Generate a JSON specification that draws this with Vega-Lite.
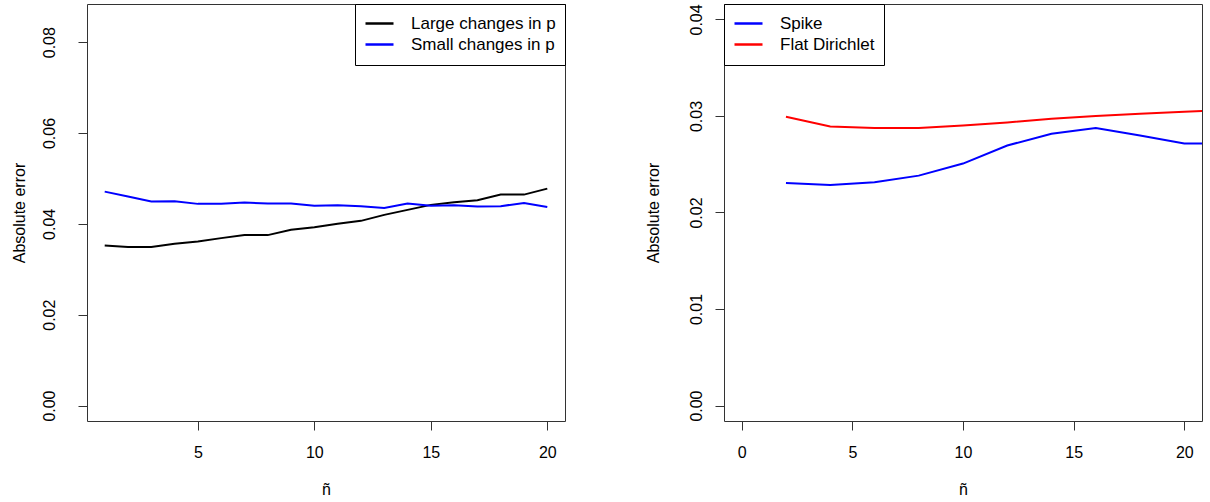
{
  "$schema": "https://vega.github.io/schema/vega-lite/v6.json",
  "padding": {"left": 10, "top": 3, "right": 0, "bottom": 0},
  "bounds": "flush",
  "spacing": 159,
  "background": "white",
  "datasets": {
    "left": [
      {"n": 1, "err": 0.03523, "series": "Large changes in p"},
      {"n": 2, "err": 0.03488, "series": "Large changes in p"},
      {"n": 3, "err": 0.03488, "series": "Large changes in p"},
      {"n": 4, "err": 0.0356, "series": "Large changes in p"},
      {"n": 5, "err": 0.03611, "series": "Large changes in p"},
      {"n": 6, "err": 0.03686, "series": "Large changes in p"},
      {"n": 7, "err": 0.03752, "series": "Large changes in p"},
      {"n": 8, "err": 0.03752, "series": "Large changes in p"},
      {"n": 9, "err": 0.03868, "series": "Large changes in p"},
      {"n": 10, "err": 0.03927, "series": "Large changes in p"},
      {"n": 11, "err": 0.04, "series": "Large changes in p"},
      {"n": 12, "err": 0.04066, "series": "Large changes in p"},
      {"n": 13, "err": 0.04198, "series": "Large changes in p"},
      {"n": 14, "err": 0.04308, "series": "Large changes in p"},
      {"n": 15, "err": 0.04418, "series": "Large changes in p"},
      {"n": 16, "err": 0.04477, "series": "Large changes in p"},
      {"n": 17, "err": 0.04521, "series": "Large changes in p"},
      {"n": 18, "err": 0.04644, "series": "Large changes in p"},
      {"n": 19, "err": 0.04644, "series": "Large changes in p"},
      {"n": 20, "err": 0.04776, "series": "Large changes in p"},
      {"n": 1, "err": 0.0471, "series": "Small changes in p"},
      {"n": 2, "err": 0.046, "series": "Small changes in p"},
      {"n": 3, "err": 0.0449, "series": "Small changes in p"},
      {"n": 4, "err": 0.045, "series": "Small changes in p"},
      {"n": 5, "err": 0.0444, "series": "Small changes in p"},
      {"n": 6, "err": 0.0444, "series": "Small changes in p"},
      {"n": 7, "err": 0.0447, "series": "Small changes in p"},
      {"n": 8, "err": 0.0445, "series": "Small changes in p"},
      {"n": 9, "err": 0.0445, "series": "Small changes in p"},
      {"n": 10, "err": 0.044, "series": "Small changes in p"},
      {"n": 11, "err": 0.0441, "series": "Small changes in p"},
      {"n": 12, "err": 0.0439, "series": "Small changes in p"},
      {"n": 13, "err": 0.0435, "series": "Small changes in p"},
      {"n": 14, "err": 0.0445, "series": "Small changes in p"},
      {"n": 15, "err": 0.044, "series": "Small changes in p"},
      {"n": 16, "err": 0.0441, "series": "Small changes in p"},
      {"n": 17, "err": 0.0438, "series": "Small changes in p"},
      {"n": 18, "err": 0.0439, "series": "Small changes in p"},
      {"n": 19, "err": 0.0446, "series": "Small changes in p"},
      {"n": 20, "err": 0.0437, "series": "Small changes in p"}
    ],
    "right": [
      {"n": 2, "err": 0.02306, "series": "Spike"},
      {"n": 4, "err": 0.02286, "series": "Spike"},
      {"n": 6, "err": 0.02314, "series": "Spike"},
      {"n": 8, "err": 0.02382, "series": "Spike"},
      {"n": 10, "err": 0.02507, "series": "Spike"},
      {"n": 12, "err": 0.02694, "series": "Spike"},
      {"n": 14, "err": 0.02816, "series": "Spike"},
      {"n": 16, "err": 0.02875, "series": "Spike"},
      {"n": 18, "err": 0.02798, "series": "Spike"},
      {"n": 20, "err": 0.02715, "series": "Spike"},
      {"n": 22, "err": 0.02715, "series": "Spike"},
      {"n": 2, "err": 0.02992, "series": "Flat Dirichlet"},
      {"n": 4, "err": 0.02891, "series": "Flat Dirichlet"},
      {"n": 6, "err": 0.02875, "series": "Flat Dirichlet"},
      {"n": 8, "err": 0.02875, "series": "Flat Dirichlet"},
      {"n": 10, "err": 0.02902, "series": "Flat Dirichlet"},
      {"n": 12, "err": 0.02933, "series": "Flat Dirichlet"},
      {"n": 14, "err": 0.02971, "series": "Flat Dirichlet"},
      {"n": 16, "err": 0.02999, "series": "Flat Dirichlet"},
      {"n": 18, "err": 0.03023, "series": "Flat Dirichlet"},
      {"n": 20, "err": 0.03044, "series": "Flat Dirichlet"},
      {"n": 22, "err": 0.0306, "series": "Flat Dirichlet"}
    ]
  },
  "hconcat": [
    {
      "width": 478,
      "height": 417,
      "data": {"name": "left"},
      "mark": {"type": "line", "strokeWidth": 2, "clip": true},
      "encoding": {
        "x": {
          "field": "n", "type": "quantitative",
          "scale": {"domain": [0.24, 20.76], "nice": false, "zero": false},
          "axis": {"values": [5, 10, 15, 20], "title": "ñ", "titleX": 239}
        },
        "y": {
          "field": "err", "type": "quantitative",
          "scale": {"domain": [-0.0034, 0.0884], "nice": false, "zero": false},
          "axis": {"values": [0, 0.02, 0.04, 0.06, 0.08], "format": ".2f", "title": "Absolute error", "labelPadding": 24, "titleX": -63}
        },
        "color": {
          "field": "series", "type": "nominal",
          "scale": {"domain": ["Large changes in p", "Small changes in p"], "range": ["#000000", "#0000ff"]},
          "legend": {"orient": "top-right", "title": " "}
        }
      }
    },
    {
      "width": 478,
      "height": 417,
      "data": {"name": "right"},
      "mark": {"type": "line", "strokeWidth": 2, "clip": true},
      "encoding": {
        "x": {
          "field": "n", "type": "quantitative",
          "scale": {"domain": [-0.8, 20.8], "nice": false, "zero": false},
          "axis": {"values": [0, 5, 10, 15, 20], "title": "ñ", "titleX": 239}
        },
        "y": {
          "field": "err", "type": "quantitative",
          "scale": {"domain": [-0.0016, 0.0416], "nice": false, "zero": false},
          "axis": {"values": [0, 0.01, 0.02, 0.03, 0.04], "format": ".2f", "title": "Absolute error", "labelPadding": 14, "titleX": -66}
        },
        "color": {
          "field": "series", "type": "nominal",
          "scale": {"domain": ["Spike", "Flat Dirichlet"], "range": ["#0000ff", "#ff0000"]},
          "legend": {"orient": "top-left", "title": " "}
        }
      }
    }
  ],
  "resolve": {"scale": {"color": "independent"}, "legend": {"color": "independent"}},
  "config": {
    "view": {"stroke": "#333333", "strokeWidth": 1},
    "font": "Liberation Sans",
    "axis": {
      "grid": false,
      "domain": false,
      "tickColor": "#333333",
      "tickSize": 9,
      "tickWidth": 1,
      "labelFont": "Liberation Sans",
      "labelFontSize": 16,
      "labelColor": "#000000",
      "titleFont": "Liberation Sans",
      "titleFontSize": 16,
      "titleFontWeight": "normal",
      "titleColor": "#000000"
    },
    "axisX": {
      "labelBaseline": "alphabetic",
      "labelPadding": 27,
      "titleBaseline": "alphabetic",
      "titleY": 73,
      "titleAlign": "center"
    },
    "axisY": {
      "labelAngle": 270,
      "labelAlign": "center",
      "labelBaseline": "alphabetic",
      "titleAngle": 270,
      "titleAlign": "center",
      "titleBaseline": "alphabetic",
      "titleY": 208.5
    },
    "legend": {
      "titleOrient": "bottom",
      "titleFontSize": 3,
      "titlePadding": 0,
      "offset": 0,
      "padding": 9,
      "strokeColor": "#000000",
      "fillColor": "#ffffff",
      "symbolType": "M-1.556,0H1.556",
      "symbolSize": 324,
      "symbolOffset": 5,
      "symbolStrokeWidth": 2.5,
      "labelFont": "Liberation Sans",
      "labelFontSize": 17,
      "labelColor": "#000000",
      "labelOffset": 21,
      "rowPadding": 2
    }
  }
}
